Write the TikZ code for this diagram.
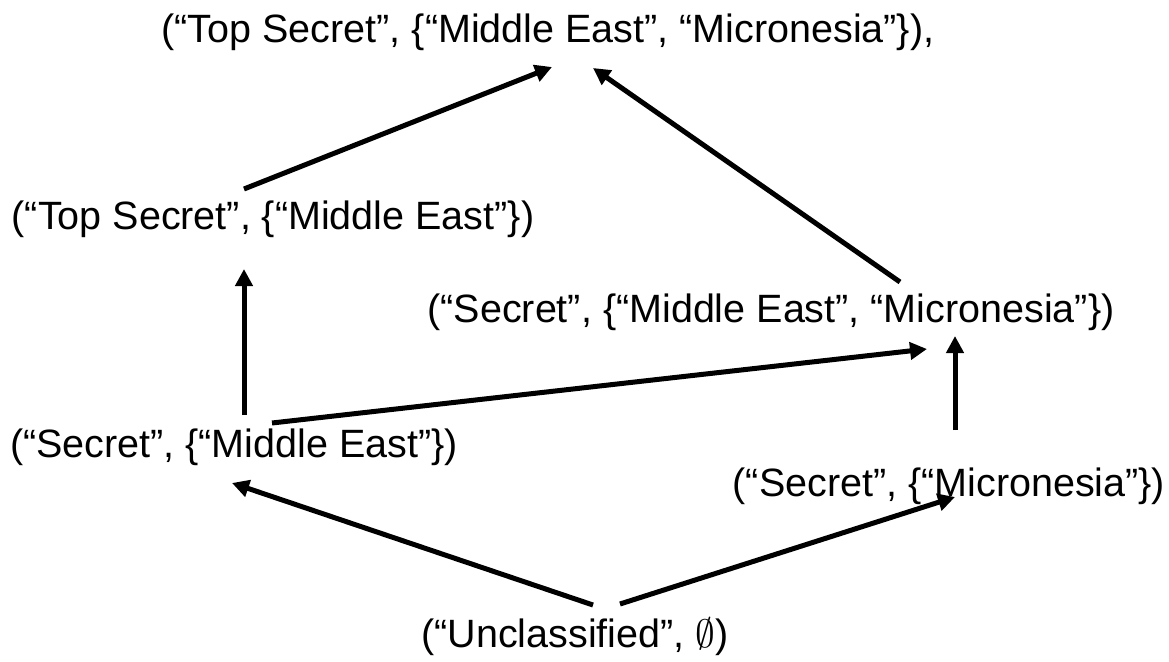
\RequirePackage{fix-cm}
\documentclass[tikz,border=0pt]{standalone}
\usepackage{fontspec}
\setmainfont{Liberation Sans}
\usetikzlibrary{arrows.meta}
\tikzset{
  lbl/.style={anchor=base, inner sep=0pt, font=\fontsize{39.5}{47}\selectfont},
  arr/.style={line width=5pt, -{Triangle[length=17pt,width=17pt]}},
}
\begin{document}
\begin{tikzpicture}[x=1pt, y=-1pt]
\useasboundingbox (0,0) rectangle (1169,661);

% lattice elements
\node[lbl] (ts2) at (548,43)  {(“Top Secret”, \{“Middle East”, “Micronesia”\}),};
\node[lbl] (tsm) at (273,229) {(“Top Secret”, \{“Middle East”\})};
\node[lbl] (s2)  at (771,322) {(“Secret”, \{“Middle East”, “Micronesia”\})};
\node[lbl] (sm)  at (234,457) {(“Secret”, \{“Middle East”\})};
\node[lbl] (sc)  at (949,496) {(“Secret”, \{“Micronesia”\})};
\node[lbl] (un)  at (575,647) {(“Unclassified”, $\emptyset$)};

% order relations
\draw[arr] ([shift={(-29,-40)}]tsm.base) -- ([shift={(4,24)}]ts2.base);
\draw[arr] ([shift={(129,-40)}]s2.base)  -- ([shift={(45,25)}]ts2.base);
\draw[arr] ([shift={(10,-42)}]sm.base)   -- ([shift={(-29,40)}]tsm.base);
\draw[arr] ([shift={(38,-34)}]sm.base)   -- ([shift={(156,27)}]s2.base);
\draw[arr] ([shift={(6,-66)}]sc.base)    -- ([shift={(184,14)}]s2.base);
\draw[arr] ([shift={(18,-42)}]un.base)   -- ([shift={(-2,26)}]sm.base);
\draw[arr] ([shift={(45,-43)}]un.base)   -- ([shift={(6,1)}]sc.base);
\end{tikzpicture}
\end{document}
